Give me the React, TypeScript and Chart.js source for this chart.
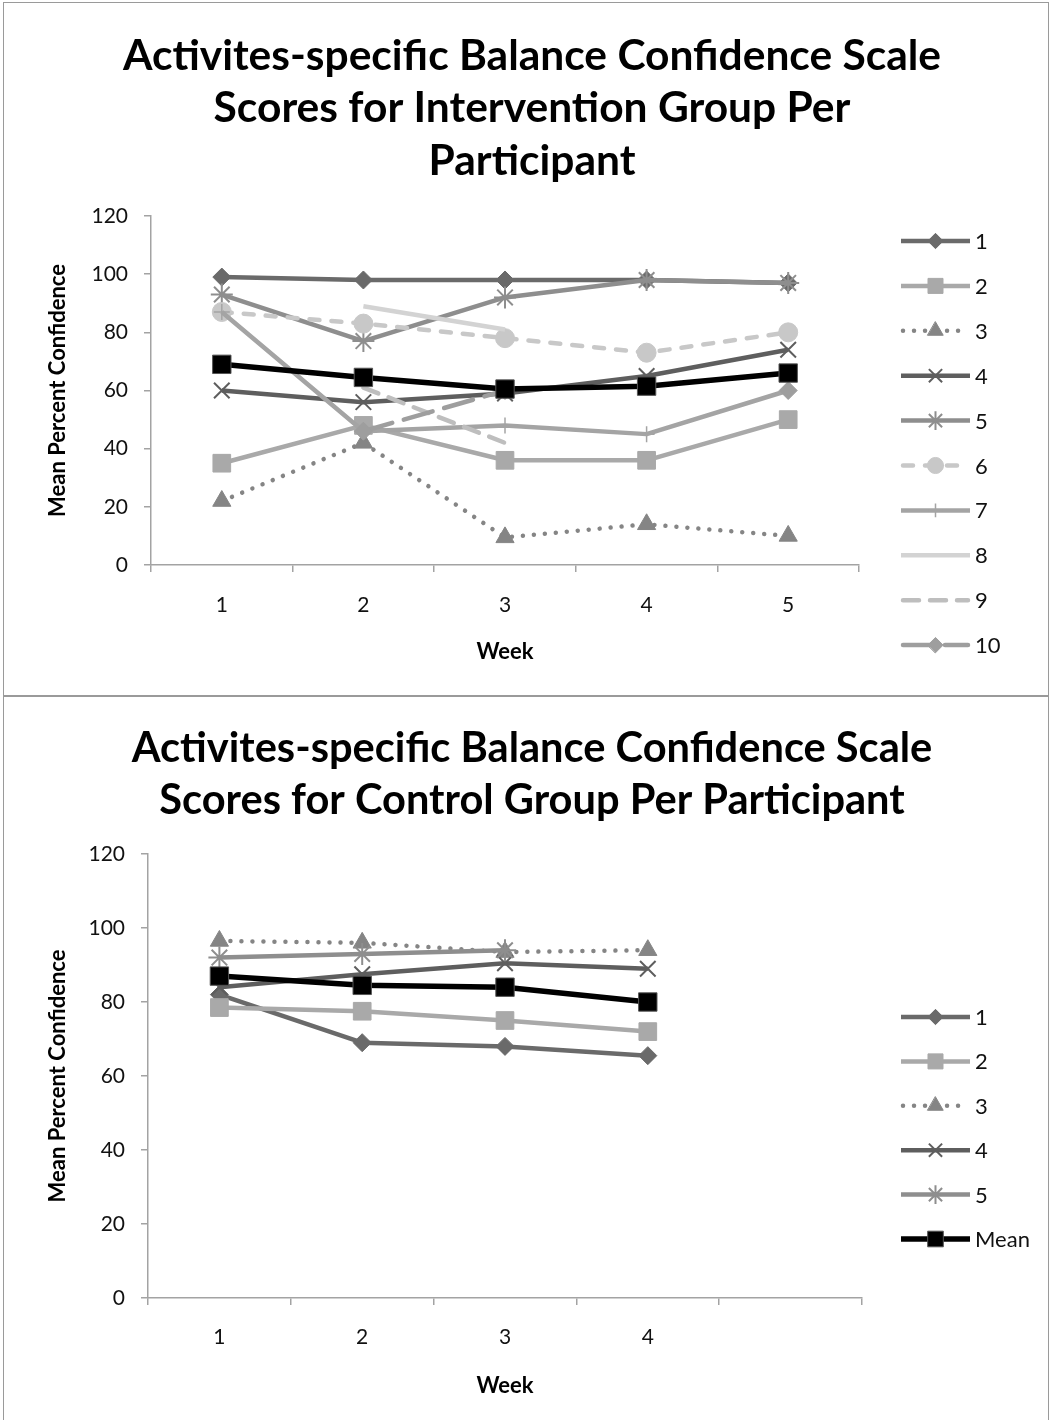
import React, { useEffect, useRef } from 'react';
import { Chart, registerables } from 'chart.js';
import { drawPoint } from 'chart.js/helpers';

Chart.register(...registerables);

// ---- data: intervention group (weeks 1-5) ----
const interventionWeeks = ['1', '2', '3', '4', '5'];
const int1 = [99, 98, 98, 98, 97];
const int2 = [35, 48, 36, 36, 50];
const int3 = [22, 42, 9.5, 14, 10];
const int4 = [60, 56, 59, 65, 74];
const int5 = [93, 77, 92, 98, 97];
const int6 = [87, 83, 78, 73, 80];
const int7 = [87, 46, 48, 45, 60];
const int8 = [null, 89, 81, null, null];
const int9 = [null, 61, 42, null, null];
const int10 = [null, 46, 60, null, 60];
const intMean = [69, 64.5, 60.5, 61.5, 66];

// ---- data: control group (weeks 1-4, fifth slot left empty) ----
const controlWeeks = ['1', '2', '3', '4', ''];
const ctl1 = [82, 69, 68, 65.5];
const ctl2 = [78.5, 77.5, 75, 72];
const ctl3 = [96.5, 96, 93.5, 94];
const ctl4 = [84, 87.5, 90.5, 89];
const ctl5 = [92, 93, 94, null];
const ctlMean = [87, 84.5, 84, 80];

const yTickValues = [0, 20, 40, 60, 80, 100, 120];

const FONT = "Lato, 'Open Sans', sans-serif";
const AXIS_GREY = '#a3a3a3';

type Style = {
  color: string;
  width: number;
  dash: number[];
  cap: CanvasLineCap;
  point: string | false;
  radius: number;
  pointWidth: number;
  pointFill: string;
  pointBorder: string;
};

const styles: Record<string, Style> = {
  p1: { color: '#6a6a6a', width: 4.5, dash: [], cap: 'butt', point: 'rectRot', radius: 9, pointWidth: 1, pointFill: '#6a6a6a', pointBorder: '#6a6a6a' },
  p2: { color: '#a9a9a9', width: 4.5, dash: [], cap: 'butt', point: 'rect', radius: 12.5, pointWidth: 1, pointFill: '#a9a9a9', pointBorder: '#a9a9a9' },
  p3: { color: '#858585', width: 4.5, dash: [0.01, 11], cap: 'round', point: 'triangle', radius: 10.5, pointWidth: 1, pointFill: '#858585', pointBorder: '#858585' },
  p4: { color: '#5e5e5e', width: 4.5, dash: [], cap: 'butt', point: 'crossRot', radius: 11, pointWidth: 2, pointFill: '#5e5e5e', pointBorder: '#5e5e5e' },
  p5: { color: '#8e8e8e', width: 4.5, dash: [], cap: 'butt', point: 'star', radius: 11, pointWidth: 2, pointFill: '#8e8e8e', pointBorder: '#8e8e8e' },
  p6: { color: '#c8c8c8', width: 4.5, dash: [10, 12], cap: 'round', point: 'circle', radius: 9.5, pointWidth: 1, pointFill: '#c8c8c8', pointBorder: '#c8c8c8' },
  p7: { color: '#a4a4a4', width: 4.5, dash: [], cap: 'butt', point: 'cross', radius: 8, pointWidth: 1.5, pointFill: '#a4a4a4', pointBorder: '#a4a4a4' },
  p8: { color: '#d3d3d3', width: 4.5, dash: [], cap: 'butt', point: false, radius: 0, pointWidth: 0, pointFill: '#d3d3d3', pointBorder: '#d3d3d3' },
  p9: { color: '#bebebe', width: 4.5, dash: [16, 11], cap: 'round', point: false, radius: 0, pointWidth: 0, pointFill: '#bebebe', pointBorder: '#bebebe' },
  p10: { color: '#9e9e9e', width: 4.5, dash: [30, 12], cap: 'round', point: 'rectRot', radius: 9, pointWidth: 1, pointFill: '#9e9e9e', pointBorder: '#9e9e9e' },
  mean: { color: '#000000', width: 5.5, dash: [], cap: 'butt', point: 'rect', radius: 13, pointWidth: 1, pointFill: '#000000', pointBorder: '#555555' },
};

function series(label: string, data: (number | null)[], s: Style, index: number, total: number, inLegend = true) {
  return {
    label,
    data,
    borderColor: s.color,
    backgroundColor: s.color,
    borderWidth: s.width,
    borderDash: s.dash,
    borderCapStyle: s.cap,
    borderJoinStyle: 'round' as CanvasLineJoin,
    tension: 0,
    pointStyle: s.point === false ? 'circle' : s.point,
    pointRadius: s.point === false ? 0 : s.radius,
    pointHoverRadius: s.point === false ? 0 : s.radius,
    pointBorderWidth: s.pointWidth,
    pointBackgroundColor: s.pointFill,
    pointBorderColor: s.pointBorder,
    spanGaps: false,
    order: total - 1 - index,
    inLegend,
  };
}

// Legend drawn at the right: line sample with its dash pattern, the marker in the middle, then the label.
const sideLegend = {
  id: 'sideLegend',
  afterDraw(chart: any, _args: any, opts: any) {
    const { ctx } = chart;
    const { x0, y0, step, lineLen, textGap } = opts;
    let row = 0;
    chart.data.datasets.forEach((ds: any) => {
      if (!ds.inLegend) return;
      const y = y0 + row * step;
      ctx.save();
      ctx.strokeStyle = ds.borderColor;
      ctx.lineWidth = ds.borderWidth;
      ctx.lineCap = ds.borderCapStyle;
      ctx.setLineDash(ds.borderDash || []);
      ctx.beginPath();
      ctx.moveTo(x0 + (ds.borderCapStyle === 'round' ? 2 : 0), y);
      ctx.lineTo(x0 + lineLen - (ds.borderCapStyle === 'round' ? 2 : 0), y);
      ctx.stroke();
      ctx.setLineDash([]);
      if (ds.pointRadius > 0) {
        ctx.fillStyle = ds.pointBackgroundColor;
        ctx.strokeStyle = ds.pointBorderColor;
        ctx.lineWidth = ds.pointBorderWidth;
        drawPoint(ctx, { pointStyle: ds.pointStyle, radius: ds.pointRadius * 0.85, borderWidth: ds.pointBorderWidth, rotation: 0 }, x0 + lineLen / 2, y);
      }
      ctx.fillStyle = '#111';
      ctx.font = `22px ${FONT}`;
      ctx.textBaseline = 'middle';
      ctx.textAlign = 'left';
      ctx.fillText(ds.label, x0 + lineLen + textGap, y + 1);
      ctx.restore();
      row++;
    });
  },
};

type PanelSpec = {
  width: number;
  height: number;
  title: string[];
  titleSize: number;
  titlePadTop: number;
  titlePadBottom: number;
  labels: string[];
  datasets: any[];
  yWidth: number;
  rightSpace: number;
  xHeight: number;
  xTickPad: number;
  xTitlePadBottom: number;
  legendY0: number;
  legendStep: number;
};

function ChartPanel({ spec }: { spec: PanelSpec }) {
  const ref = useRef<HTMLCanvasElement | null>(null);
  useEffect(() => {
    if (!ref.current) return;
    const tickFont = { family: FONT, size: 21 };
    const titleFont = { family: FONT, size: 22, weight: 'bold' as const };
    const chart = new Chart(ref.current, {
      type: 'line',
      data: { labels: spec.labels, datasets: spec.datasets },
      plugins: [sideLegend],
      options: {
        responsive: false,
        animation: false,
        events: [],
        layout: { padding: { left: 12, right: 0, top: 0, bottom: 0 } },
        plugins: {
          legend: { display: false },
          tooltip: { enabled: false },
          title: {
            display: true,
            text: spec.title,
            color: '#000',
            font: { family: FONT, size: spec.titleSize, weight: 'bold', lineHeight: 52.5 / spec.titleSize },
            padding: { top: spec.titlePadTop, bottom: spec.titlePadBottom },
          },
          sideLegend: {
            x0: spec.width - 147,
            y0: spec.legendY0,
            step: spec.legendStep,
            lineLen: 69,
            textGap: 5,
          },
        } as any,
        scales: {
          x: {
            type: 'category',
            offset: true,
            grid: { offset: true, drawOnChartArea: false, drawTicks: true, tickLength: 7, color: AXIS_GREY, lineWidth: 1.5 },
            border: { display: true, color: AXIS_GREY, width: 1.5 },
            ticks: { padding: spec.xTickPad, font: tickFont, color: '#111', maxRotation: 0, autoSkip: false },
            title: { display: true, text: 'Week', color: '#000', font: titleFont, padding: { top: 0, bottom: spec.xTitlePadBottom } },
            afterFit: (s: any) => { s.height = spec.xHeight; },
          },
          y: {
            type: 'linear',
            min: 0,
            max: 120,
            afterBuildTicks: (s: any) => { s.ticks = yTickValues.map((v) => ({ value: v })); },
            grid: { drawOnChartArea: false, drawTicks: true, tickLength: 7, color: AXIS_GREY, lineWidth: 1.5 },
            border: { display: true, color: AXIS_GREY, width: 1.5 },
            ticks: { padding: 16, font: tickFont, color: '#111' },
            title: { display: true, text: 'Mean Percent Confidence', color: '#000', font: titleFont, padding: { top: 28.8, bottom: 0 } },
            afterFit: (s: any) => { s.width = spec.yWidth; },
          },
          legendSpace: {
            type: 'linear',
            position: 'right',
            display: true,
            grid: { display: false, drawTicks: false },
            border: { display: false },
            ticks: { display: false },
            afterFit: (s: any) => { s.width = spec.rightSpace; },
          },
        } as any,
      },
    });
    return () => chart.destroy();
  }, [spec]);
  return <canvas ref={ref} width={spec.width} height={spec.height} style={{ display: 'block', width: spec.width, height: spec.height }} />;
}

const intNames = ['1', '2', '3', '4', '5', '6', '7', '8', '9', '10'];
const intData = [int1, int2, int3, int4, int5, int6, int7, int8, int9, int10];
const intStyles = [styles.p1, styles.p2, styles.p3, styles.p4, styles.p5, styles.p6, styles.p7, styles.p8, styles.p9, styles.p10];

const interventionDatasets = [
  ...intData.map((d, i) => series(intNames[i], d, intStyles[i], i, 11)),
  series('Mean', intMean, styles.mean, 10, 11, false),
];

const ctlNames = ['1', '2', '3', '4', '5', 'Mean'];
const ctlData = [ctl1, ctl2, ctl3, ctl4, ctl5, ctlMean];
const ctlStyles = [styles.p1, styles.p2, styles.p3, styles.p4, styles.p5, styles.mean];
const controlDatasets = ctlData.map((d, i) => series(ctlNames[i], d, ctlStyles[i], i, 6));

const topSpec: PanelSpec = {
  width: 1044,
  height: 692,
  title: ['Activites-specific Balance Confidence Scale', 'Scores for Intervention Group Per', 'Participant'],
  titleSize: 42.5,
  titlePadTop: 27,
  titlePadBottom: 28.5,
  labels: interventionWeeks,
  datasets: interventionDatasets,
  yWidth: 135,
  rightSpace: 189,
  xHeight: 130,
  xTickPad: 20.4,
  xTitlePadBottom: 29.8,
  legendY0: 238,
  legendStep: 44.9,
};

const bottomSpec: PanelSpec = {
  width: 1044,
  height: 723,
  title: ['Activites-specific Balance Confidence Scale', 'Scores for Control Group Per Participant'],
  titleSize: 41.6,
  titlePadTop: 25,
  titlePadBottom: 27,
  labels: controlWeeks,
  datasets: controlDatasets,
  yWidth: 132,
  rightSpace: 186,
  xHeight: 122,
  xTickPad: 19.4,
  xTitlePadBottom: 20.8,
  legendY0: 320,
  legendStep: 44.4,
};

export default function App() {
  return (
    <div style={{ position: 'absolute', left: 0, top: 0, width: 1049, height: 1420, background: '#fff', overflow: 'hidden' }}>
      <div style={{ position: 'absolute', left: 3, top: 2, width: 1046, height: 694, border: '1px solid #9a9a9a', boxSizing: 'border-box' }}>
        <ChartPanel spec={topSpec} />
      </div>
      <div style={{ position: 'absolute', left: 3, top: 696, width: 1046, height: 725, border: '1px solid #9a9a9a', boxSizing: 'border-box' }}>
        <ChartPanel spec={bottomSpec} />
      </div>
    </div>
  );
}
